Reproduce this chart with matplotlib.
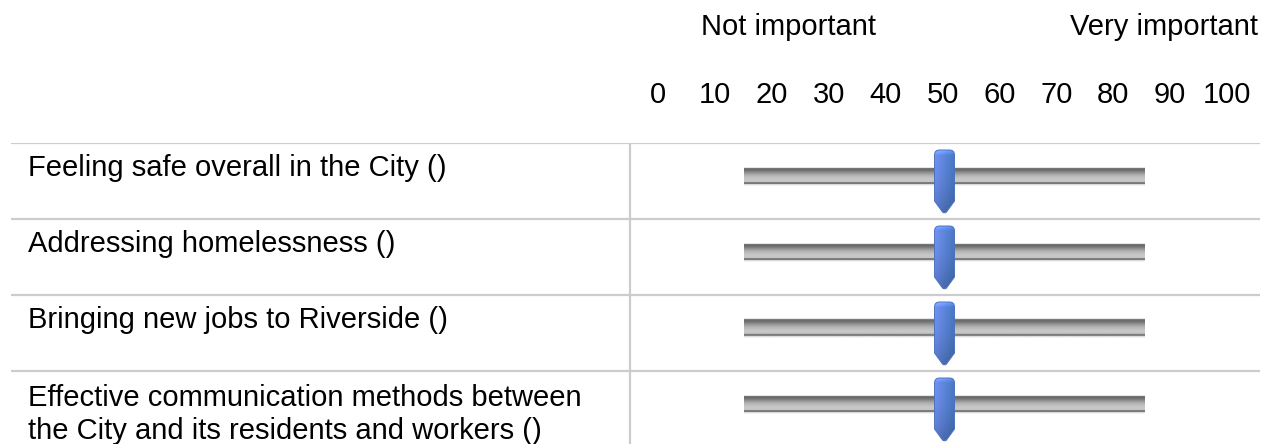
import numpy as np
import matplotlib
matplotlib.use("Agg")
import matplotlib.pyplot as plt
from matplotlib.path import Path
from matplotlib.patches import PathPatch

# ---------------- data ----------------
categories = [
    "Feeling safe overall in the City ()",
    "Addressing homelessness ()",
    "Bringing new jobs to Riverside ()",
    "Effective communication methods between\nthe City and its residents and workers ()",
]
values = [50, 50, 50, 50]
scale_ticks = [0, 10, 20, 30, 40, 50, 60, 70, 80, 90, 100]
tick_labels = [str(t) for t in scale_ticks]
scale_low_label = "Not important"
scale_high_label = "Very important"

# ---------------- layout / style ----------------
plt.rcParams['font.family'] = ['Liberation Sans', 'DejaVu Sans']
W, H = 1270, 444
FS = 21
ROW_H = 76.0
TABLE_TOP = 143.0
LINE_C = '#cccccc'
LINE_STEP = 33.5  # px between label lines

fig = plt.figure(figsize=(W / 100, H / 100), dpi=100)
fig.patch.set_facecolor('white')

n_vis = (H - TABLE_TOP) / ROW_H
tab_h = 1 - TABLE_TOP / H

# table (row labels + grid lines), x in pixels, y in row units
tb = fig.add_axes([0, 0, 1, tab_h])
tb.set_xlim(0, W)
tb.set_ylim(n_vis, 0)
tb.axis('off')
rows = np.arange(len(categories))
tb.hlines(rows, 11, 1260, color=LINE_C, lw=1.6)
tb.vlines(630, 0, n_vis, color=LINE_C, lw=1.6)
for i, c in enumerate(categories):
    lines = c.split('\n')
    first = 33.0 if len(lines) == 1 else 34.5
    for k, line in enumerate(lines):
        tb.text(28, i + (first + k * LINE_STEP) / ROW_H, line, fontsize=FS,
                ha='left', va='baseline', color='black', clip_on=False)

# slider axes: x in value units (0-100), y in row units
sl = fig.add_axes([744 / W, 0, 401 / W, tab_h])
sl.set_xlim(0, 100)
sl.set_ylim(n_vis, 0)
sl.axis('off')

px_x = 401 / 100.0  # pixels per value unit

track_profile = np.array([0.90, 0.46, 0.42, 0.45, 0.50, 0.56, 0.61, 0.66, 0.70,
                          0.73, 0.75, 0.77, 0.78, 0.78, 0.77, 0.50, 0.47, 0.86, 0.95])
track_img = np.repeat(track_profile[:, None], 2, axis=1)

# handle gradient
hx = np.linspace(0, 1, 24)
hy = np.linspace(0, 1, 66)
left_c = np.array([0.44, 0.57, 0.95])
right_c = np.array([0.28, 0.47, 0.76])
grad = left_c[None, None, :] * (1 - hx[None, :, None]) + right_c[None, None, :] * hx[None, :, None]
shade = 1.0 - 0.22 * hy[:, None, None] ** 2
top_hl = 1.0 + 0.25 * np.clip(1 - hy / 0.08, 0, 1)[:, None, None]
handle_img = np.clip(grad * shade * top_hl, 0, 1)

for i, v in enumerate(values):
    y0 = i + 24.0 / ROW_H
    y1 = i + 43.0 / ROW_H
    sl.imshow(track_img, cmap='gray', vmin=0, vmax=1, aspect='auto',
              extent=(0, 100, y1, y0), interpolation='bilinear', zorder=2)

    def P(dx, dy):
        return (v + dx / px_x, i + dy / ROW_H)
    verts = [P(-10, 58), P(-10, 12), P(-10, 7), P(-5, 7), P(5, 7), P(10, 7), P(10, 12),
             P(10, 58), P(2, 69), P(0, 71), P(-2, 69), P(-10, 58), P(-10, 58)]
    codes = [Path.MOVETO, Path.LINETO, Path.CURVE3, Path.CURVE3, Path.LINETO,
             Path.CURVE3, Path.CURVE3, Path.LINETO, Path.LINETO, Path.CURVE3,
             Path.CURVE3, Path.LINETO, Path.CLOSEPOLY]
    patch = PathPatch(Path(verts, codes), facecolor='none',
                      edgecolor=(0.30, 0.45, 0.74), lw=0.7, zorder=4, clip_on=False)
    sl.add_patch(patch)
    im = sl.imshow(handle_img, aspect='auto', interpolation='bilinear',
                   extent=(v - 10 / px_x, v + 10 / px_x, i + 71 / ROW_H, i + 7 / ROW_H),
                   zorder=3)
    im.set_clip_path(patch)
sl.set_xlim(0, 100)
sl.set_ylim(n_vis, 0)

# header: scale labels and ticks; x in value units, y in pixels
hd = fig.add_axes([658 / W, tab_h, 569 / W, TABLE_TOP / H])
hd.set_xlim(0, 100)
hd.set_ylim(TABLE_TOP, 0)
hd.axis('off')
for t, lbl in zip(scale_ticks, tick_labels):
    hd.text(t, 103, lbl, fontsize=FS, ha='center', va='baseline', color='black')
hd.text(22.9, 35, scale_low_label, fontsize=FS, ha='center', va='baseline', color='black')
hd.text(105.45, 35, scale_high_label, fontsize=FS, ha='right', va='baseline', color='black')

fig.savefig('out.png', dpi=100, facecolor='white')
